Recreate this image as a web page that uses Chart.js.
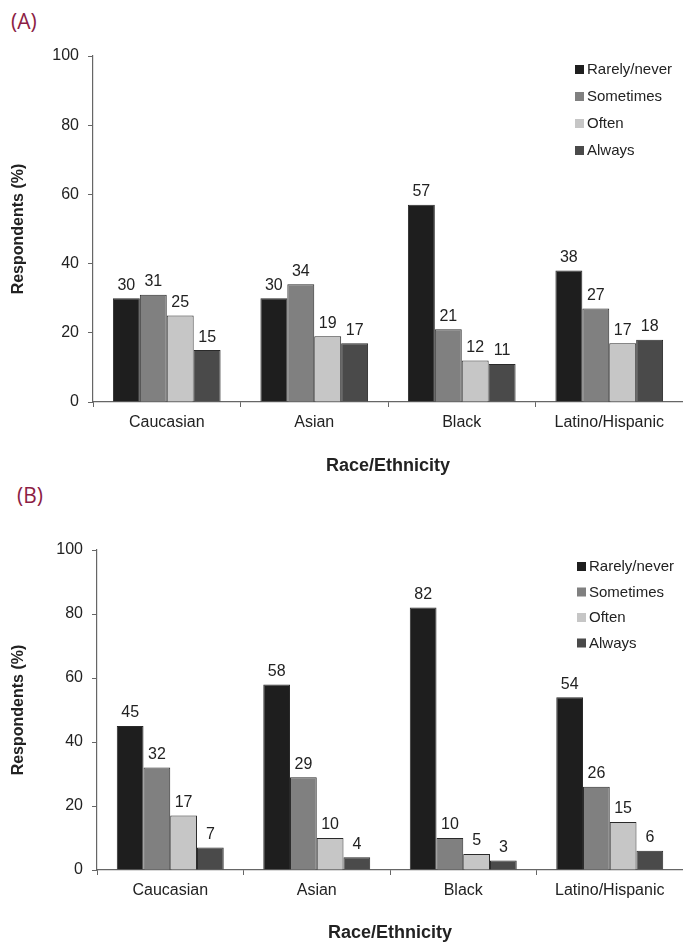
<!DOCTYPE html>
<html>
<head>
<meta charset="utf-8">
<script src="https://cdn.jsdelivr.net/npm/chart.js@4"></script>
<style>
  body { margin: 0; background: #fff; width: 683px; height: 945px; position: relative; overflow: hidden; }
  canvas { position: absolute; left: 0; }
  .panel { position: absolute; font-family: "Open Sans", sans-serif; font-size: 21px; color: #8c1d45; }
</style>
</head>
<body>
<div class="panel" style="left:11px; top:7px;">(A)</div>
<canvas id="chartA" width="683" height="480" style="top:0"></canvas>
<div class="panel" style="left:17px; top:481px;">(B)</div>
<canvas id="chartB" width="683" height="465" style="top:480px"></canvas>
<script>
const categories = ["Caucasian", "Asian", "Black", "Latino/Hispanic"];
const seriesNames = ["Rarely/never", "Sometimes", "Often", "Always"];
const seriesColors = ["#1e1e1e", "#808080", "#c6c6c6", "#4a4a4a"];
const yTicks = [0, 20, 40, 60, 80, 100];

// panel A
const rarelyA = [30, 30, 57, 38];
const sometimesA = [31, 34, 21, 27];
const oftenA = [25, 19, 12, 17];
const alwaysA = [15, 17, 11, 18];

// panel B
const rarelyB = [45, 58, 82, 54];
const sometimesB = [32, 29, 10, 26];
const oftenB = [17, 10, 5, 15];
const alwaysB = [7, 4, 3, 6];

const FONT = "'Liberation Sans', Arial, sans-serif";

// values above bars
const valueLabels = {
    id: "valueLabels",
    afterDatasetsDraw(chart) {
        const ctx = chart.ctx;
        ctx.save();
        ctx.font = "16px " + FONT;
        ctx.fillStyle = "#222";
        ctx.textAlign = "center";
        ctx.textBaseline = "bottom";
        chart.data.datasets.forEach((ds, i) => {
            chart.getDatasetMeta(i).data.forEach((bar, j) => {
                ctx.fillText(ds.data[j], bar.x, bar.y - 5);
            });
        });
        ctx.restore();
    },
};

// legend stacked in the top right of the plot
const boxLegend = {
    id: "boxLegend",
    afterDraw(chart, args, opts) {
        const ctx = chart.ctx;
        const area = chart.chartArea;
        ctx.save();
        ctx.font = "15px " + FONT;
        ctx.textBaseline = "middle";
        chart.data.datasets.forEach((ds, i) => {
            const x = area.right - opts.fromRight;
            const y = area.top + opts.top + i * opts.step;
            ctx.fillStyle = ds.backgroundColor;
            ctx.fillRect(x, y - 5, 9, 9);
            ctx.fillStyle = "#222";
            ctx.fillText(ds.label, x + 12, y);
        });
        ctx.restore();
    },
};

function makeChart(id, values, box) {
    const datasets = seriesNames.map((name, i) => ({
        label: name,
        data: values[i],
        backgroundColor: seriesColors[i],
        borderColor: "#2a2a2a",
        borderWidth: 1,
        categoryPercentage: 0.73,
        barPercentage: 1.0,
    }));
    return new Chart(document.getElementById(id), {
        type: "bar",
        data: { labels: categories, datasets: datasets },
        plugins: [valueLabels, boxLegend],
        options: {
            responsive: false,
            animation: false,
            layout: { padding: { top: box.top, right: 0, left: 0, bottom: 0 } },
            plugins: {
                legend: { display: false },
                tooltip: { enabled: false },
                boxLegend: box.legend,
            },
            scales: {
                x: {
                    grid: { display: true, drawOnChartArea: false, tickLength: 5, color: "#666", offset: true },
                    border: { color: "#666", width: 1.2 },
                    ticks: { color: "#222", font: { family: FONT, size: 16 }, padding: 6 },
                    title: { display: true, text: "Race/Ethnicity", color: "#222", font: { family: FONT, size: 18, weight: "bold" }, padding: { bottom: box.xTitlePad } },
                    afterFit(scale) { scale.height = box.xHeight; },
                },
                y: {
                    min: 0,
                    max: 100,
                    afterBuildTicks(scale) { scale.ticks = yTicks.map(v => ({ value: v })); },
                    grid: { display: true, drawOnChartArea: false, tickLength: 5, color: "#666" },
                    border: { color: "#666", width: 1.2 },
                    ticks: { color: "#222", font: { family: FONT, size: 16 }, padding: 9 },
                    title: { display: true, text: "Respondents (%)", color: "#222", font: { family: FONT, size: 16, weight: "bold" }, padding: { top: 9 } },
                    afterFit(scale) { scale.width = box.yWidth; },
                },
            },
        },
    });
}

makeChart("chartA", [rarelyA, sometimesA, oftenA, alwaysA], {
    top: 56, xHeight: 78, yWidth: 93, xTitlePad: 3,
    legend: { fromRight: 108, top: 14, step: 27 },
});
makeChart("chartB", [rarelyB, sometimesB, oftenB, alwaysB], {
    top: 70, xHeight: 75, yWidth: 97, xTitlePad: 1,
    legend: { fromRight: 106, top: 17, step: 25.5 },
});
</script>
</body>
</html>
